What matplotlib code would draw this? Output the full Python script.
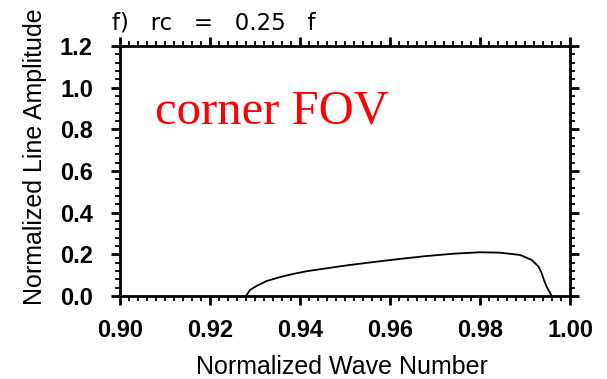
import numpy as np
import matplotlib
matplotlib.use('Agg')
from matplotlib import pyplot as plt
from matplotlib.ticker import MultipleLocator

# curve
wave = [0.9280, 0.9289, 0.9304, 0.9326, 0.9356, 0.9385, 0.9415, 0.9459,
        0.9504, 0.9563, 0.9622, 0.9682, 0.9741, 0.9800, 0.9844, 0.9889,
        0.9915, 0.9930, 0.9937, 0.9942, 0.9948, 0.9956, 0.9959]
amp = [0.0, 0.029, 0.049, 0.072, 0.091, 0.106, 0.119, 0.133,
       0.147, 0.163, 0.178, 0.192, 0.203, 0.210, 0.208, 0.197,
       0.173, 0.141, 0.109, 0.077, 0.045, 0.013, 0.0]

title = 'f)   rc   =   0.25   f'
note = 'corner FOV'

fig = plt.figure(figsize=(6.07, 3.79), dpi=100)
ax = fig.add_axes([0.1977, 0.219, 0.7414, 0.6596])
ax.plot(wave, amp, color='black', lw=1.3)

ax.set_xlim(0.90, 1.00)
ax.set_ylim(0.0, 1.2)
ax.xaxis.set_major_locator(MultipleLocator(0.02))
ax.xaxis.set_minor_locator(MultipleLocator(0.002))
ax.yaxis.set_major_locator(MultipleLocator(0.2))
ax.yaxis.set_minor_locator(MultipleLocator(0.04))
ax.xaxis.set_major_formatter(plt.FormatStrFormatter('%.2f'))
ax.yaxis.set_major_formatter(plt.FormatStrFormatter('%.1f'))

ax.tick_params(which='both', direction='out', top=True, right=True)
ax.tick_params(which='major', length=6.5, width=2, labelsize=17)
ax.tick_params(which='minor', length=3.5, width=1.3)
ax.tick_params(axis='x', which='major', pad=10)
ax.tick_params(axis='y', which='major', pad=13)
for lab in ax.get_xticklabels() + ax.get_yticklabels():
    lab.set_fontweight('bold')
    lab.set_family('Liberation Sans')
for s in ax.spines.values():
    s.set_linewidth(2)

fig.text(0.564, 0.014, 'Normalized Wave Number', fontsize=18,
         family='Liberation Sans', ha='center', va='baseline')
fig.text(0.058, 0.586, 'Normalized Line Amplitude', fontsize=18,
         family='Liberation Sans', ha='center', va='center', rotation=90)
fig.text(112 / 607, 1 - 30 / 379, title, fontsize=16.5, family='DejaVu Sans',
         ha='left', va='baseline')
ax.text(0.9078, 0.826, note, color='red', fontsize=35,
        family='Liberation Serif', va='baseline')

fig.savefig('out.png', dpi=100)
